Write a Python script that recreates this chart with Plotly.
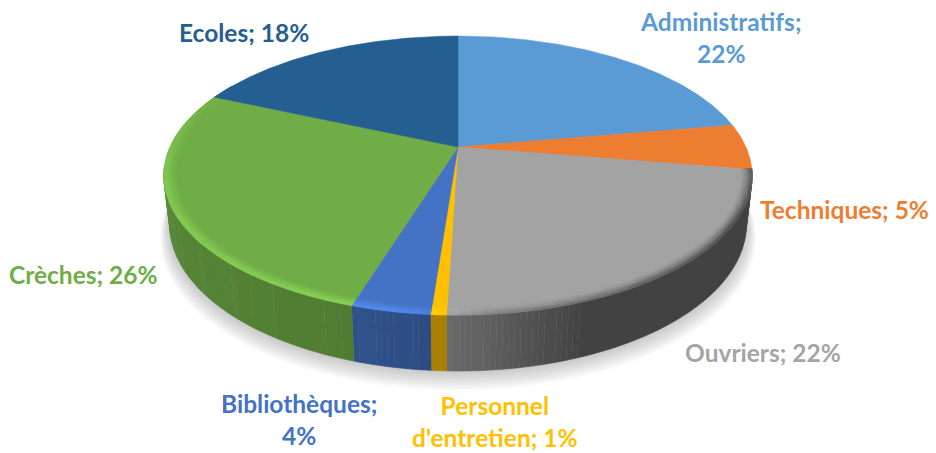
import numpy as np
import plotly.graph_objects as go

categories = ["Administratifs", "Techniques", "Ouvriers", "Personnel<br>d'entretien", "Bibliothèques", "Crèches", "Ecoles"]
values = [22.3, 5.3, 22.9, 0.7, 3.6, 26.8, 18.4]   # slice sizes
percent_labels = [22, 5, 22, 1, 4, 26, 18]          # printed labels
colors = ["#5b9bd5", "#ed7d31", "#a3a3a3", "#ffc000", "#4472c4", "#70ad47", "#255e91"]

# label layout (centre of each text block, pixels) and how the text breaks
label_x = [721, 844, 763, 495, 299, 83, 244]
label_y = [37, 209, 352, 421, 419, 274, 32]
label_break = [True, False, False, False, True, False, False]

# projection of the disc
CX, CY, R, A, K, DEPTH, DROP = 458.0, 147.0, 288.0, 133.7, 0.2043, 49.0, 0.02
RIM = 0.04


def project(r, th, lower=False, scale=1.0, dy=0.0):
    t = np.radians(th)
    u, v = r * np.sin(t) * scale, r * np.cos(t) * scale
    w = 1 + K * v + (DROP if lower else 0)
    return CX + R * u / w, CY + dy + (-A * v + (DEPTH if lower else 0)) / w


def rgb(h):
    return np.array([int(h[i:i + 2], 16) for i in (1, 3, 5)], float)


def hexc(c):
    c = np.clip(np.round(c / 2) * 2, 0, 255).astype(int)
    return "#%02x%02x%02x" % tuple(c)


shares = np.array(values, float) / sum(values)
edges = np.concatenate([[0], np.cumsum(shares)]) * 360
fig = go.Figure()


def side_factor(th):
    return np.interp(th, [90, 160, 182, 200, 250, 285], [.41, .41, .66, .72, .78, .85])


# soft ground shadow
ths = np.linspace(0, 360, 241)
for i in range(9):
    x, y = project(1, ths, True, scale=1 + 0.004 * i, dy=1.5 * i)
    fig.add_trace(go.Scatter(x=x, y=y, mode="lines", fill="toself", line=dict(width=0),
                             fillcolor="rgba(60,60,60,0.035)", hoverinfo="skip"))

buckets = {}


def add_poly(colour, xs, ys):
    b = buckets.setdefault(colour, ([], []))
    b[0].extend(list(xs) + [None])
    b[1].extend(list(ys) + [None])


def flush():
    for col, (xs, ys) in buckets.items():
        fig.add_trace(go.Scatter(x=xs, y=ys, mode="lines", fill="toself", fillcolor=col,
                                 line=dict(color=col, width=0.7), hoverinfo="skip"))
    buckets.clear()


def slice_runs(lo, hi, step):
    for i, c in enumerate(colors):
        a, b = max(edges[i], lo), min(edges[i + 1], hi)
        if b <= a:
            continue
        n = max(1, int(np.ceil((b - a) / step)))
        g = np.linspace(a, b, n + 1)
        for s, e in zip(g[:-1], g[1:]):
            yield rgb(c), s, e


# outer wall
for base, s, e in slice_runs(99, 262, 1.0):
    arc = np.array([s, e])
    x1, y1 = project(1, arc)
    x2, y2 = project(1, arc[::-1], True)
    add_poly(hexc(base * side_factor((s + e) / 2)), np.r_[x1, x2], np.r_[y1, y2])
flush()

# flat top wedges
for i, c in enumerate(colors):
    th = np.linspace(edges[i], edges[i + 1], max(3, int(edges[i + 1] - edges[i]) * 2))
    x, y = project(1, th)
    fig.add_trace(go.Scatter(x=np.r_[CX, x, CX], y=np.r_[CY, y, CY], mode="lines", fill="toself",
                             fillcolor=c, line=dict(color=c, width=0.5), hoverinfo="skip"))

# bevelled rim
radial = np.linspace(1 - RIM, 1, 7)
for base, s, e in slice_runs(99, 300, 2.0):
    mid = (s + e) / 2
    side = base * side_factor(mid)
    hl = np.interp(mid, [175, 190, 260, 300], [0, .2, .14, 0])
    dk = np.interp(mid, [99, 120, 175, 186], [.8, 1, .55, 0])
    for r0, r1 in zip(radial[:-1], radial[1:]):
        t = ((r0 + r1) / 2 - radial[0]) / RIM
        c = base * (1 + hl * min(1, t * 1.3))
        c = c + (side - c) * dk * t ** 1.6
        arc = np.array([s, e])
        x1, y1 = project(r0, arc)
        x2, y2 = project(r1, arc[::-1])
        add_poly(hexc(c), np.r_[x1, x2], np.r_[y1, y2])
flush()

for i, name in enumerate(categories):
    sep = ";<br>" if label_break[i] else "; "
    fig.add_annotation(x=label_x[i], y=label_y[i], text=f"{name}{sep}{percent_labels[i]}%", showarrow=False,
                       xanchor="center", yanchor="middle", align="center",
                       font=dict(family="Lato", size=24.5, color=colors[i] if i != 2 else "#a5a5a5", weight="bold"))

fig.update_layout(width=936, height=453, margin=dict(l=0, r=0, t=0, b=0), showlegend=False,
                  paper_bgcolor="white", plot_bgcolor="white", hovermode=False,
                  xaxis=dict(range=[0, 936], visible=False, fixedrange=True),
                  yaxis=dict(range=[453, 0], visible=False, fixedrange=True))
fig.write_html("out.html", config=dict(displayModeBar=False),
               post_script="document.body.style.margin='0';document.documentElement.style.overflow='hidden';")
